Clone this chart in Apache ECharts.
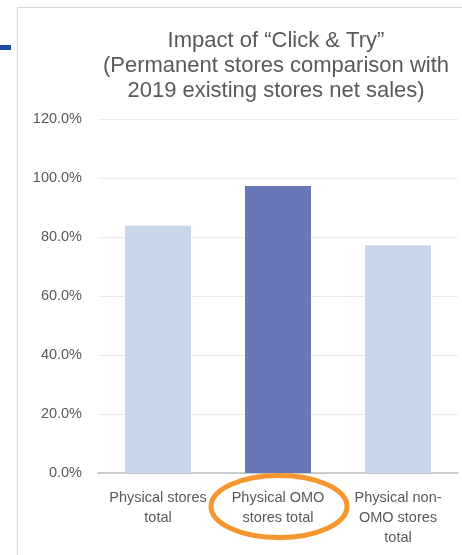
<!DOCTYPE html>
<html><head><meta charset="utf-8">
<script src="https://cdn.jsdelivr.net/npm/echarts@6/dist/echarts.min.js"></script>
<style>html,body{margin:0;padding:0;background:#fff}#c{width:462px;height:555px}</style>
</head><body><div id="c"></div>
<script>
const categories = ["Physical stores\ntotal", "Physical OMO\nstores total", "Physical non-\nOMO stores\ntotal"];
const values = [83.8, 97.3, 77.2];
const barColors = ["#c8d6ec", "#6877b7", "#c8d6ec"];
const titleLines = ["Impact of “Click & Try”", "(Permanent stores comparison with", "2019 existing stores net sales)"];

const chart = echarts.init(document.getElementById('c'), null, {renderer: 'canvas'});
chart.setOption({
  animation: false,
  backgroundColor: '#fff',
  title: {
    text: titleLines.join('\n'),
    left: 271, top: 23, textAlign: 'center',
    textStyle: {fontFamily: 'Liberation Sans', fontSize: 22, fontWeight: 'normal', color: '#595959', lineHeight: 25}
  },
  grid: {left: 98, right: 4, top: 119, bottom: 82},
  xAxis: {
    type: 'category', data: categories,
    axisLine: {lineStyle: {color: '#bfbfbf', width: 1.5}},
    axisTick: {show: false},
    axisLabel: {fontFamily: 'Liberation Sans', fontSize: 14.5, color: '#595959', lineHeight: 20, margin: 15, interval: 0}
  },
  yAxis: {
    type: 'value', min: 0, max: 120, interval: 20,
    axisLine: {show: false}, axisTick: {show: false},
    splitLine: {lineStyle: {color: '#ebebeb', width: 1}},
    axisLabel: {fontFamily: 'Liberation Sans', fontSize: 14.5, color: '#595959', margin: 16,
      formatter: v => v.toFixed(1) + '%'}
  },
  series: [{
    type: 'bar', barWidth: '55%',
    data: values.map((v, i) => ({value: v, itemStyle: {color: barColors[i]}}))
  }],
  graphic: [
    {type: 'rect', shape: {x: 17.5, y: 7.5, width: 460, height: 560}, style: {fill: 'none', stroke: '#d9d9d9', lineWidth: 1}, z: -1},
    {type: 'rect', shape: {x: 0, y: 45, width: 11, height: 5}, style: {fill: '#1f4e9c'}},
    {type: 'ellipse', shape: {cx: 279, cy: 506.5, rx: 68, ry: 31}, style: {fill: 'none', stroke: '#f7962f', lineWidth: 5}, z: 100}
  ]
});
</script></body></html>
